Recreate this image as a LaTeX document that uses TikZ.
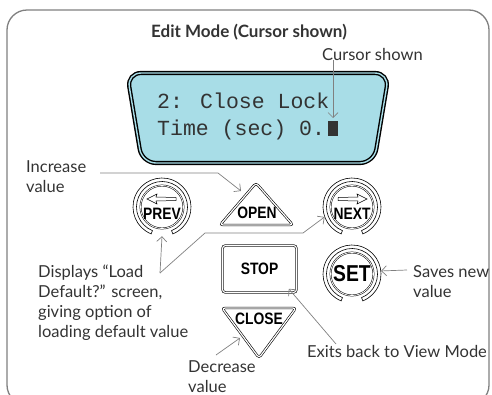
\documentclass[tikz,border=0pt]{standalone}
\usepackage{fontspec}
\setmainfont{Lato}
\newfontfamily\lcdfont{Liberation Mono}
\newfontfamily\keyfont[FakeStretch=0.84]{Liberation Sans}
\usetikzlibrary{arrows.meta}
\definecolor{lcdblue}{HTML}{A8DDE7}
\definecolor{txtgray}{HTML}{333333}
\definecolor{linegray}{HTML}{808080}

\begin{document}
\begin{tikzpicture}[x=1pt,y=-1pt,
  lbl/.style={font=\fontsize{16.5}{20}\selectfont, text=txtgray, align=left, anchor=base west, inner sep=0pt},
  conn/.style={draw=linegray, line width=0.7pt, -{Straight Barb[length=5pt,width=10pt]}},
  keyline/.style={draw=black, line width=0.6pt, double=white, double distance=1.2pt, rounded corners=3pt},
  keytext/.style={font=\keyfont\bfseries\fontsize{16.5}{16.5}\selectfont, inner sep=0pt},
  ringkey/.style={circle, minimum size=58pt, inner sep=0pt},
  ring/.pic={
    \draw[black, line width=0.6pt] (112:29) arc (112:428:29) -- (428:25.5) arc (428:112:25.5) -- cycle;
    \draw[black, line width=0.5pt, double=white, double distance=0.8pt] (0,0) circle (21.5);
  },
  ]
\useasboundingbox (0,0) rectangle (492,394);
% FRAME AND TITLE
\draw[linegray, line width=1.3pt, rounded corners=20pt] (7,10) rectangle (489,405);
\node[font=\bfseries\fontsize{17}{19}\selectfont, text=txtgray] (title) at (249,32) {Edit Mode (Cursor shown)};

% LCD DISPLAY
\draw[line width=1.4pt, double=lcdblue, double distance=1.4pt, fill=lcdblue, rounded corners=14pt]
      (127,73) -- (389,73) -- (374,163) -- (142,163) -- cycle;
\node[font=\lcdfont\fontsize{21.5}{27}\selectfont, text=txtgray, anchor=base west, inner sep=0pt] (line1) at (157,108) {2: Close Lock};
\node[font=\lcdfont\fontsize{21.5}{27}\selectfont, text=txtgray, anchor=base west, inner sep=0pt] (line2) at (157,135) {Time (sec) 0.};
\fill[txtgray] (328,121) rectangle (338,136);
\coordinate (cursor) at (333,118);
\node[lbl] (curlbl) at (322,60) {Cursor shown};
\draw[conn] (curlbl.south west -| cursor) -- (cursor);

% KEYPAD
\node[ringkey] (prevkey) at (162,207) {};
\pic at (prevkey) {ring};
\draw[black, line width=0.5pt] (147,199) -- (157,194) -- (156,197) -- (176,197.5) -- (176,200.5) -- (156,201) -- (157,204) -- cycle;
\node[keytext] (prev) at (162,214) {PREV};

\node[ringkey] (nextkey) at (352,207) {};
\pic at (nextkey) {ring};
\draw[black, line width=0.5pt] (367,199) -- (357,194) -- (358,197) -- (338,197.5) -- (338,200.5) -- (358,201) -- (357,204) -- cycle;
\node[keytext] (next) at (352,214) {NEXT};

\node[ringkey] (setkey) at (352,274) {};
\pic at (setkey) {ring};
\node[keytext, font=\keyfont\bfseries\fontsize{23}{23}\selectfont] (set) at (352,274) {SET};

\draw[keyline] (256,183) -- (293,225) -- (220,225) -- cycle;
\node[keytext] (open) at (257,213) {OPEN};

\node[keyline, keytext, minimum width=74pt, minimum height=47pt] (stop) at (259.5,269) {STOP};

\draw[keyline] (222,308) -- (296,308) -- (259,358) -- cycle;
\node[keytext] (close) at (259,319) {CLOSE};

% LABELS
\node[lbl] (inc) at (26,192) {Increase\\value};
\node[lbl] (disp) at (38,337) {Displays “Load\\Default?” screen,\\giving option of\\loading default value};
\node[lbl] (saves) at (413,297) {Saves new\\value};
\node[lbl] (exits) at (307,357) {Exits back to View Mode};
\node[lbl] (dec) at (188,392) {Decrease\\value};

% CONNECTORS
\coordinate (incfrom) at (100,173);
\coordinate (opentip) at (241,191);
\draw[conn] (incfrom) -- (218,173) -- (opentip);
\coordinate (dispfrom) at (160,273);
\draw[conn] (dispfrom) -- (prevkey.south);
\draw[conn] (dispfrom) -- (205,233) -- (303,233) -- (nextkey.200);
\coordinate (savesfrom) at (407,270);
\draw[conn] (savesfrom) -- (setkey.6);
\coordinate (exitsfrom) at (336,344);
\draw[conn] (exitsfrom) -- ([xshift=-8pt,yshift=4pt]stop.south east);
\coordinate (decfrom) at (216,355);
\coordinate (closetip) at (240,338);
\draw[conn] (decfrom) -- (closetip);
\end{tikzpicture}
\end{document}
